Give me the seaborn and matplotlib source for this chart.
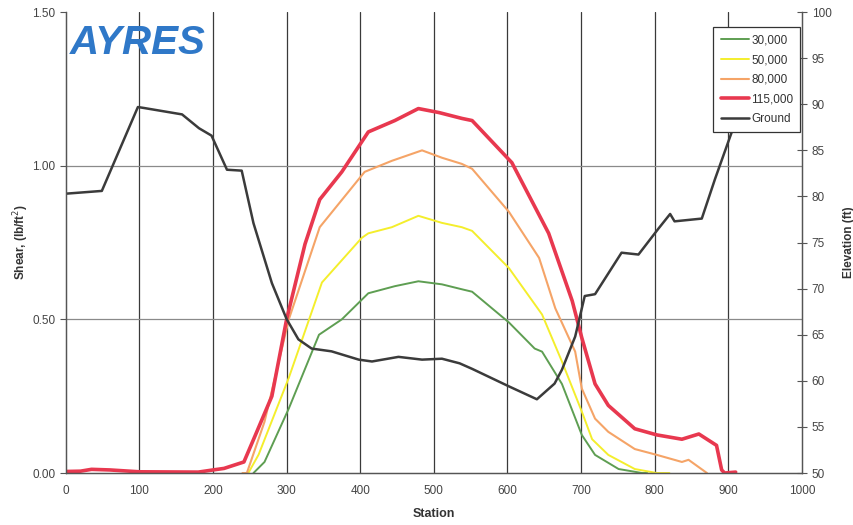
import matplotlib
matplotlib.use("Agg")
import matplotlib.pyplot as plt
import seaborn as sns
import pandas as pd
from matplotlib.ticker import FormatStrFormatter

# ---- data ----
st_30 = [255, 270, 303, 344, 375, 411, 447, 479, 511, 538, 552, 602, 637, 647, 674, 701, 719, 751, 783, 790]
v_30 = [0.0, 0.036, 0.21, 0.45, 0.50, 0.585, 0.608, 0.624, 0.614, 0.598, 0.59, 0.49, 0.405, 0.395, 0.29, 0.124, 0.059, 0.013, 0.0, 0.0]

st_50 = [248, 262, 303, 348, 402, 411, 443, 479, 511, 538, 552, 602, 647, 674, 701, 715, 737, 773, 803, 820]
v_50 = [0.0, 0.06, 0.31, 0.62, 0.765, 0.78, 0.80, 0.837, 0.814, 0.80, 0.788, 0.667, 0.516, 0.363, 0.20, 0.11, 0.059, 0.013, 0.0, 0.0]

st_80 = [240, 246, 270, 303, 345, 406, 443, 484, 511, 538, 552, 602, 643, 665, 692, 701, 719, 737, 773, 803, 837, 846, 871]
v_80 = [0.0, 0.0, 0.167, 0.50, 0.80, 0.98, 1.016, 1.05, 1.026, 1.006, 0.99, 0.85, 0.70, 0.536, 0.395, 0.275, 0.177, 0.134, 0.078, 0.059, 0.036, 0.043, 0.0]

st_115 = [0, 20, 35, 60, 100, 180, 200, 215, 242, 257, 280, 300, 325, 345, 375, 411, 447, 479, 507, 538, 552, 606, 656, 688, 701, 719, 737, 773, 803, 837, 860, 884, 891, 895, 910]
v_115 = [0.005, 0.006, 0.012, 0.01, 0.004, 0.003, 0.01, 0.015, 0.036, 0.12, 0.25, 0.50, 0.745, 0.89, 0.98, 1.11, 1.147, 1.186, 1.173, 1.154, 1.147, 1.01, 0.78, 0.56, 0.44, 0.29, 0.22, 0.144, 0.124, 0.11, 0.127, 0.09, 0.01, 0.0, 0.003]

st_g = [0, 49, 98, 106, 158, 181, 198, 219, 239, 255, 280, 300, 316, 334, 361, 398, 416, 452, 484, 511, 535, 552, 602, 640, 664, 674, 692, 705, 719, 755, 778, 805, 821, 827, 864, 882, 907, 920]
elev_g = [80.3, 80.6, 89.7, 89.6, 88.9, 87.4, 86.6, 82.9, 82.8, 77.1, 70.6, 66.7, 64.5, 63.5, 63.2, 62.3, 62.1, 62.6, 62.3, 62.4, 61.9, 61.3, 59.4, 58.0, 59.7, 61.2, 64.8, 69.2, 69.4, 73.9, 73.7, 76.5, 78.1, 77.3, 77.6, 81.9, 87.5, 89.5]

series_names = ["30,000", "50,000", "80,000", "115,000"]
series_colors = ["#5e9e52", "#f4ee2c", "#f5a467", "#e8384f"]
series_widths = [1.4, 1.4, 1.5, 2.6]

x_ticks = list(range(0, 1001, 100))
left_ticks = [0.0, 0.5, 1.0, 1.5]
right_ticks = list(range(50, 101, 5))

sns.set_style("white")
plt.rcParams["font.family"] = ["Liberation Sans", "DejaVu Sans"]

fig = plt.figure(figsize=(8.54, 5.25), dpi=100)
ax = fig.add_axes([0.077, 0.099, 0.862, 0.878])
ax2 = ax.twinx()

for st, v, name, c, lw in zip([st_30, st_50, st_80, st_115], [v_30, v_50, v_80, v_115],
                              series_names, series_colors, series_widths):
    df = pd.DataFrame({"Station": st, "Shear": v})
    sns.lineplot(data=df, x="Station", y="Shear", ax=ax, color=c, lw=lw, label=name, legend=False)

dfg = pd.DataFrame({"Station": st_g, "Elevation": elev_g})
sns.lineplot(data=dfg, x="Station", y="Elevation", ax=ax2, color="#3b3b3b", lw=1.8, label="Ground", legend=False)

ax.set_xlim(0, 1000)
ax.set_ylim(0, 1.5)
ax2.set_ylim(50, 100)
ax.set_xticks(x_ticks)
ax.set_yticks(left_ticks)
ax2.set_yticks(right_ticks)
ax.yaxis.set_major_formatter(FormatStrFormatter("%.2f"))

# grid
for xv in x_ticks[1:-1]:
    ax.axvline(xv, color="#3a3a3a", lw=0.9, zorder=0)
for yv in [0.5, 1.0]:
    ax.axhline(yv, color="#8a8a8a", lw=0.9, zorder=0)

for a in (ax, ax2):
    for s in a.spines.values():
        s.set_color("#555555")
        s.set_linewidth(0.9)
ax2.spines["top"].set_visible(False)
ax.spines["top"].set_visible(False)

ax.tick_params(axis="both", colors="#555555", labelcolor="#444444", labelsize=8.5, length=4, width=0.8)
ax.tick_params(axis="x", direction="inout", length=5, pad=6)
ax2.tick_params(axis="y", colors="#555555", labelcolor="#444444", labelsize=8.5, direction="inout", length=7, width=0.8)

ax.set_xlabel("Station", fontsize=9, fontweight="bold", color="#333333", labelpad=8)
ax.set_ylabel("Shear, (lb/ft$^2$)", fontsize=8.5, fontweight="bold", color="#333333", labelpad=1)
ax2.set_ylabel("Elevation (ft)", fontsize=8.5, fontweight="bold", color="#333333", labelpad=8)

h1, l1 = ax.get_legend_handles_labels()
h2, l2 = ax2.get_legend_handles_labels()
leg = ax2.legend(h1 + h2, l1 + l2, loc="upper right", bbox_to_anchor=(0.998, 0.967),
                 borderaxespad=0, fontsize=8.5, frameon=True, fancybox=False, framealpha=1,
                 handlelength=2.4, handletextpad=0.2, borderpad=0.6, labelspacing=0.65)
leg.get_frame().set_edgecolor("#333333")
leg.get_frame().set_linewidth(0.9)
for t in leg.get_texts():
    t.set_color("#333333")

fig.text(0.082, 0.897, "AYRES", fontsize=29, fontweight="bold", fontstyle="italic",
         color="#2f78c8", ha="left", va="baseline")

fig.savefig("out.png", dpi=100, facecolor="white")
